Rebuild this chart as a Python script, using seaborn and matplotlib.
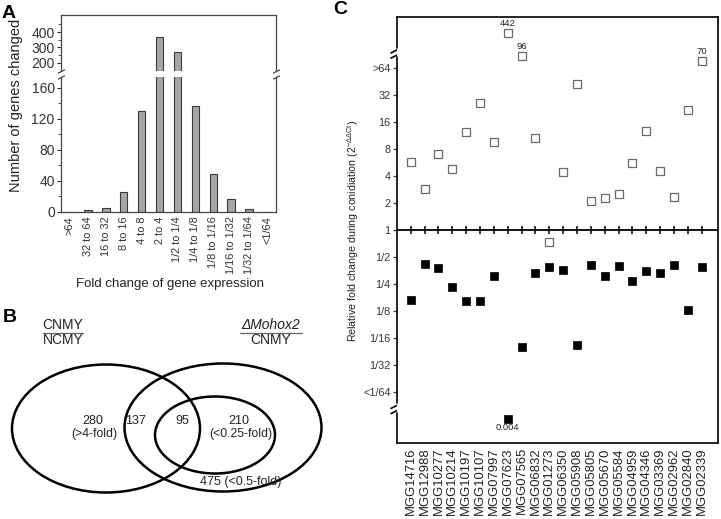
import numpy as np
import pandas as pd
import matplotlib
matplotlib.use("Agg")
import matplotlib.pyplot as plt
from matplotlib.patches import Ellipse
import seaborn as sns

# ── data ─────────────────────────────────────────────────────────────────────
# A: number of genes per fold-change bin (dMohox2 / CNMY)
fold_bins = [">64", "32 to 64", "16 to 32", "8 to 16", "4 to 8", "2 to 4",
             "1/2 to 1/4", "1/4 to 1/8", "1/8 to 1/16", "1/16 to 1/32",
             "1/32 to 1/64", "<1/64"]
genes_changed = [0, 2, 5, 26, 130, 365, 270, 137, 49, 17, 4, 0]

# B: venn counts
venn_counts = [280, 137, 95, 210, 475]
venn_notes = ["(>4-fold)", "", "", "(<0.25-fold)", "(<0.5-fold)"]

# C: qRT-PCR fold changes
genes = ["MGG14716", "MGG12988", "MGG10277", "MGG10214", "MGG10197", "MGG10107",
         "MGG07997", "MGG07623", "MGG07565", "MGG06832", "MGG01273", "MGG06350",
         "MGG05908", "MGG05805", "MGG05670", "MGG05584", "MGG04959", "MGG04346",
         "MGG03369", "MGG02962", "MGG02840", "MGG02339"]
cnmy_vs_ncmy = [5.7, 2.85, 7.0, 4.8, 12.4, 26, 9.6, 442, 96, 10.7, 0.74, 4.4,
                42, 2.1, 2.3, 2.5, 5.6, 12.8, 4.5, 2.35, 22, 70]
mohox2_vs_cnmy = [0.166, 0.42, 0.38, 0.23, 0.16, 0.16, 0.31, 0.004, 0.050, 0.33,
                  0.39, 0.36, 0.052, 0.41, 0.31, 0.40, 0.27, 0.35, 0.33, 0.41,
                  0.128, 0.39]
fold_ticks = ["<1/64", "1/32", "1/16", "1/8", "1/4", "1/2", "1",
              "2", "4", "8", "16", "32", ">64"]

# ── setup ────────────────────────────────────────────────────────────────────
sns.set_theme(style="ticks")
plt.rcParams["font.family"] = ["Liberation Sans", "DejaVu Sans"]
plt.rcParams["mathtext.fontset"] = "custom"
plt.rcParams["mathtext.rm"] = "Liberation Sans"
plt.rcParams["text.color"] = "#222222"
plt.rcParams["xtick.color"] = "#333333"
plt.rcParams["ytick.color"] = "#333333"

W, H = 721, 519
fig = plt.figure(figsize=(W / 100, H / 100), dpi=100)


def box(l, t, r, b):
    return [l / W, 1 - b / H, (r - l) / W, (b - t) / H]


# overlay in pixel coords for venn and free text
ov = fig.add_axes([0, 0, 1, 1])
ov.set_xlim(0, W)
ov.set_ylim(H, 0)
ov.axis("off")


def fraction(xc, y_top, y_bot, top, bottom, half, size, italic_top=False):
    ov.text(xc, y_top, top, ha="center", va="center", fontsize=size,
            fontstyle="italic" if italic_top else "normal")
    ov.plot([xc - half, xc + half], [(y_top + y_bot) / 2 + 0.5] * 2,
            color="#666666", lw=0.9)
    ov.text(xc, y_bot, bottom, ha="center", va="center", fontsize=size)


# ── A: histogram with broken y axis ─────────────────────────────────────────
df_a = pd.DataFrame({"bin": fold_bins, "n": genes_changed})
ax_top = fig.add_axes(box(61, 15, 276, 71))
ax_bot = fig.add_axes(box(61, 77, 276, 212))
for ax in (ax_top, ax_bot):
    sns.barplot(data=df_a, x="bin", y="n", color="#a5a5a5", saturation=1,
                edgecolor="#3a3a3a", linewidth=0.8, width=0.42, ax=ax)
    ax.set_xlim(-0.5, 11.5)
    ax.set_xlabel("")
    ax.set_ylabel("")
    ax.tick_params(axis="y", labelsize=10, length=3, width=0.8, pad=1.5)
    ax.tick_params(axis="y", which="minor", length=2, width=0.6)
    for s in ax.spines.values():
        s.set_linewidth(0.9)
        s.set_color("#444444")
ax_top.set_ylim(148, 510)
ax_bot.set_ylim(0, 174)
ax_top.spines["bottom"].set_visible(False)
ax_bot.spines["top"].set_visible(False)
ax_top.tick_params(axis="x", length=0, labelbottom=False)
ax_top.set_yticks([200, 300, 400])
ax_top.set_yticks([250, 350, 450], minor=True)
ax_bot.set_yticks([0, 40, 80, 120, 160])
ax_bot.set_yticks([20, 60, 100, 140], minor=True)
ax_bot.tick_params(axis="x", length=0, labelsize=7.9, labelrotation=90, pad=3)

# break marks on spines
for ax, yy in ((ax_top, 0), (ax_bot, 1)):
    ax.plot([0, 1], [yy, yy], transform=ax.transAxes, linestyle="none",
            marker=[(-1, -0.5), (1, 0.5)], markersize=5, color="#333333",
            mew=0.8, clip_on=False)

ov.text(170, 284, "Fold change of gene expression", ha="center", va="center",
        fontsize=9.5)
ov.text(16, 105, "Number of genes changed", rotation=90, ha="center",
        va="center", fontsize=10.5)
fraction(242, 32, 46.5, "ΔMohox2", "CNMY", 26, 9.5, italic_top=True)
ov.text(9, 13, "A", ha="center", va="center", fontsize=14, fontweight="bold",
        color="black")

# ── B: venn diagram ─────────────────────────────────────────────────────────
for cx, cy, w, h in ((106, 428.5, 188, 128), (223, 427.5, 197, 128),
                     (215, 435, 120, 77)):
    ov.add_patch(Ellipse((cx, cy), w, h, fill=False, lw=1.8, ec="black"))
spots = [(93, 421.5), (136, 421.5), (182.5, 421.5), (239, 421.5), (241, 481.5)]
for (sx, sy), n, note in zip(spots, venn_counts, venn_notes):
    if note and sy > 470:
        ov.text(sx, sy, f"{n} {note}", ha="center", va="center", fontsize=9)
        continue
    ov.text(sx, sy, f"{n}", ha="center", va="center", fontsize=9)
    if note:
        ov.text(sx + 1.5, sy + 12, note, ha="center", va="center", fontsize=8.8)
fraction(63, 325, 340, "CNMY", "NCMY", 20, 10)
fraction(271, 325, 340, "ΔMohox2", "CNMY", 31, 10, italic_top=True)
ov.text(10, 318, "B", ha="center", va="center", fontsize=14, fontweight="bold",
        color="black")


# ── C: qRT-PCR scatter ──────────────────────────────────────────────────────
def to_axis(v):
    # log2 scale, compressed beyond the break at >64 and <1/64
    l = np.log2(v)
    if l > 6:
        return 6.2 + 0.4 * (l - 6)
    if l < -6:
        return -6.2 + 0.4 * (l + 6)
    return l


xs = np.arange(len(genes))
df_c = pd.DataFrame({"gene": genes, "x": xs,
                     "up": [to_axis(v) for v in cnmy_vs_ncmy],
                     "down": [to_axis(v) for v in mohox2_vs_cnmy]})

ax_c = fig.add_axes(box(397, 17, 718, 443))
ax_c.axhline(0, color="black", lw=1.3, zorder=2)
ax_c.scatter(xs, np.zeros(len(xs)), marker="|", s=40, color="black", lw=1.1,
             zorder=2)
sns.scatterplot(data=df_c, x="x", y="up", marker="s", s=32, color="white",
                edgecolor="#6a6a6a", linewidth=0.9, ax=ax_c, zorder=3)
sns.scatterplot(data=df_c, x="x", y="down", marker="s", s=32, color="black",
                edgecolor="black", linewidth=0.5, ax=ax_c, zorder=3)
ax_c.set_xlim(-0.99, 22.18)
ax_c.set_ylim(-7.89, 7.89)
ax_c.set_xlabel("")
ax_c.set_ylabel("")
ax_c.set_yticks(range(-6, 7))
ax_c.set_yticklabels(fold_ticks)
ax_c.set_xticks(xs)
ax_c.set_xticklabels(genes)
ax_c.tick_params(axis="x", length=0, labelsize=9.4, labelrotation=90, pad=3,
                 labelcolor="#222222")
ax_c.tick_params(axis="y", length=3, width=0.9, labelsize=7.8, pad=1.5)
for s in ax_c.spines.values():
    s.set_linewidth(1.2)
    s.set_color("black")

# outlier value labels
for xi, v in zip(xs, cnmy_vs_ncmy):
    if v > 64:
        ax_c.annotate(f"{v:g}", (xi, to_axis(v)), xytext=(0, 3.5),
                      textcoords="offset points", ha="center", va="bottom",
                      fontsize=6.8)
for xi, v in zip(xs, mohox2_vs_cnmy):
    if v < 1 / 64:
        ax_c.annotate(f"{v:g}", (xi, to_axis(v)), xytext=(0, -3.5),
                      textcoords="offset points", ha="center", va="top",
                      fontsize=6.8)

# broken left spine with // marks
ax_c.spines["left"].set_visible(False)
segs = [(0, 0.070), (0.094, 0.906), (0.927, 1)]
for a, b in segs:
    ax_c.plot([0, 0], [a, b], transform=ax_c.transAxes, color="black", lw=1.2,
              clip_on=False)
for gy in (52.5, 408):
    for dy in (-2.6, 2.6):
        ov.plot([391, 403], [gy + dy + 3, gy + dy - 3], color="black", lw=1.2)

ov.text(353, 231, r"Relative fold change during conidiation (2$^{\mathregular{-ΔΔCt}}$)",
        rotation=90, ha="center", va="center", fontsize=7.7)
fraction(429, 27.5, 41.5, "CNMY", "NCMY", 22, 8)
fraction(433, 418.5, 432.5, "ΔMohox2", "CNMY", 26, 8, italic_top=True)
ov.text(340, 10, "C", ha="center", va="center", fontsize=14, fontweight="bold",
        color="black")

fig.savefig("out.png", dpi=100)
